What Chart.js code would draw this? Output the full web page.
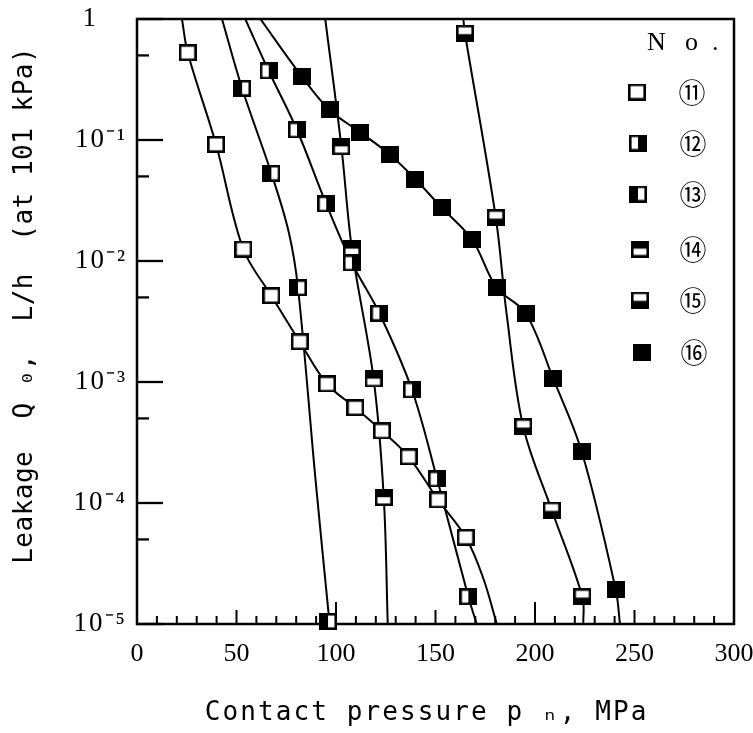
<!DOCTYPE html>
<html>
<head>
<meta charset="utf-8">
<script src="https://cdn.jsdelivr.net/npm/chart.js@4/dist/chart.umd.min.js"></script>
<style>
  html, body { margin: 0; padding: 0; background: #fff; }
  #wrap { width: 753px; height: 733px; }
</style>
</head>
<body>
<div id="wrap"><canvas id="c" width="753" height="733"></canvas></div>
<script>
// ---------------- data ----------------
const seriesLabels = ['\u246A', '\u246B', '\u246C', '\u246D', '\u246E', '\u246F']; // ⑪ … ⑯
const legendHeader = ['N', 'o', '.'];

const xTickValues = [0, 50, 100, 150, 200, 250, 300];
const xTickLabels = ['0', '50', '100', '150', '200', '250', '300'];
const yTickValues = [1, 1e-1, 1e-2, 1e-3, 1e-4, 1e-5];
const yTickLabels = ['1', '10\u207B\u00B9', '10\u207B\u00B2', '10\u207B\u00B3', '10\u207B\u2074', '10\u207B\u2075'];
const yMinorTickValues = [0.5, 0.05, 0.005, 0.0005, 0.00005];

const xTitle = 'Contact pressure p \u2099, MPa';
const yTitle = 'Leakage  Q \u2080,  L/h  (at 101 kPa)';

// measured points (markers)
const m11x = [25.5, 39.7, 53.4, 67.5, 81.8, 95.5, 109.7, 123.1, 136.5, 151.3, 165.2];
const m11y = [0.527, 0.0921, 0.01256, 0.00517, 0.00215, 9.63e-4, 6.13e-4, 3.94e-4, 2.41e-4, 1.06e-4, 5.21e-5];
const m12x = [66.2, 80.4, 95.1, 108.0, 121.8, 138.2, 150.8, 166.5];
const m12y = [0.372, 0.121, 0.0296, 0.00963, 0.0037, 8.59e-4, 1.58e-4, 1.68e-5];
const m13x = [52.8, 67.5, 80.9, 96.0];
const m13y = [0.2676, 0.0531, 0.00601, 1.05e-5];
const m14x = [102.7, 108.0, 118.9, 124.0];
const m14y = [0.088, 0.01257, 1.06e-3, 1.11e-4];
const m15x = [164.8, 180.3, 194.1, 208.4, 223.8];
const m15y = [0.762, 0.0228, 4.27e-4, 8.75e-5, 1.68e-5];
const m16x = [82.9, 96.8, 112.2, 127.3, 139.8, 153.1, 168.5, 180.8, 195.3, 209.2, 223.5, 240.6];
const m16y = [0.3336, 0.177, 0.1158, 0.0752, 0.0476, 0.0276, 0.01492, 0.00601, 0.0037, 1.06e-3, 2.65e-4, 1.91e-5];

// drawn fitting curves
const c11x = [22.6, 25.5, 39.7, 53.4, 67.5, 81.8, 95.5, 109.7, 123.1, 136.5, 151.3, 165.2, 174.0, 180.8];
const c11y = [1, 0.527, 0.0921, 0.01256, 0.00517, 0.00215, 9.63e-4, 6.13e-4, 3.94e-4, 2.41e-4, 1.06e-4, 5.21e-5, 2.39e-5, 1e-5];
const c12x = [54.4, 66.2, 80.4, 95.1, 108.0, 121.8, 138.2, 150.8, 166.5, 170.7];
const c12y = [1, 0.372, 0.121, 0.0296, 0.00963, 0.0037, 8.59e-4, 1.58e-4, 1.68e-5, 1e-5];
const c13x = [42.7, 52.8, 67.5, 76.2, 80.9, 89.8, 96.8];
const c13y = [1, 0.2676, 0.0531, 0.01746, 0.00601, 1.5e-4, 1e-5];
const c14x = [94.6, 102.7, 108.0, 118.9, 124.0, 126.0];
const c14y = [1, 0.088, 0.01257, 1.06e-3, 1.11e-4, 1e-5];
const c15x = [164.0, 164.8, 180.3, 185.8, 194.1, 208.4, 223.8, 224.3];
const c15y = [1, 0.762, 0.0228, 3.58e-3, 4.27e-4, 8.75e-5, 1.68e-5, 1e-5];
const c16x = [62.0, 82.9, 96.8, 112.2, 127.3, 139.8, 153.1, 168.5, 180.8, 195.3, 209.2, 223.5, 240.6, 242.7];
const c16y = [1, 0.3336, 0.177, 0.1158, 0.0752, 0.0476, 0.0276, 0.01492, 0.00601, 0.0037, 1.06e-3, 2.65e-4, 1.91e-5, 1e-5];

// ---------------- marker glyphs ----------------
function makeMarker(kind) {
  const w = 18, h = 17, lw = 2.6;
  const c = document.createElement('canvas');
  c.width = w; c.height = h;
  const g = c.getContext('2d');
  g.fillStyle = '#fff'; g.fillRect(0, 0, w, h);
  g.fillStyle = '#000';
  if (kind === 'full') g.fillRect(0, 0, w, h);
  if (kind === 'right') g.fillRect(w * 0.5, 0, w * 0.5, h);
  if (kind === 'left') g.fillRect(0, 0, w * 0.5, h);
  if (kind === 'top') g.fillRect(0, 0, w, h * 0.48);
  if (kind === 'bottom') g.fillRect(0, h * 0.55, w, h * 0.45);
  g.lineWidth = lw; g.strokeStyle = '#000';
  g.strokeRect(lw / 2, lw / 2, w - lw, h - lw);
  return c;
}
const markerKinds = ['open', 'right', 'left', 'top', 'bottom', 'full'];
const markerImgs = markerKinds.map(makeMarker);

const zip = (xs, ys) => xs.map((x, i) => ({ x, y: ys[i] }));
const markerSets = [[m11x, m11y], [m12x, m12y], [m13x, m13y], [m14x, m14y], [m15x, m15y], [m16x, m16y]];
const curveSets = [[c11x, c11y], [c12x, c12y], [c13x, c13y], [c14x, c14y], [c15x, c15y], [c16x, c16y]];

const datasets = [];
curveSets.forEach(([xs, ys], i) => {
  datasets.push({
    label: seriesLabels[i] + ' curve',
    data: zip(xs, ys),
    showLine: true,
    borderColor: '#000',
    borderWidth: 2,
    pointRadius: 0,
    tension: 0.35,
    order: 1
  });
});
markerSets.forEach(([xs, ys], i) => {
  datasets.push({
    label: seriesLabels[i],
    data: zip(xs, ys),
    showLine: false,
    pointStyle: markerImgs[i],
    pointRadius: 9,
    clip: false,
    order: 0
  });
});

// ---------------- helpers / plugins ----------------
function withSpacing(scale, method, spacing) {
  const key = '_sp_' + method;
  if (scale[key]) return;
  const orig = scale[method];
  scale[method] = function (...args) {
    const ctx = this.ctx;
    ctx.save();
    ctx.letterSpacing = spacing;
    orig.apply(this, args);
    ctx.restore();
  };
  scale[key] = true;
}

const spacingPlugin = {
  id: 'spacing',
  beforeDraw(chart) {
    withSpacing(chart.scales.x, 'drawTitle', '2.1px');
    withSpacing(chart.scales.y, 'drawTitle', '0.5px');
    withSpacing(chart.scales.y, 'drawLabels', '2px');
  }
};

const framePlugin = {
  id: 'frameTicks',
  beforeDatasetsDraw(chart) {
    const { ctx, chartArea: a, scales: { x, y } } = chart;
    ctx.save();
    ctx.strokeStyle = '#000';
    ctx.lineCap = 'butt';
    ctx.lineWidth = 2.5;
    ctx.strokeRect(a.left, a.top, a.right - a.left, a.bottom - a.top);
    // x inner ticks every 10 MPa
    ctx.lineWidth = 2;
    for (let v = 10; v < 300; v += 10) {
      const px = x.getPixelForValue(v);
      const len = v % 100 === 0 ? 22 : (v % 50 === 0 ? 14 : 8);
      ctx.beginPath(); ctx.moveTo(px, a.bottom); ctx.lineTo(px, a.bottom - len); ctx.stroke();
    }
    // y inner ticks
    ctx.lineWidth = 2.3;
    yTickValues.forEach(v => {
      const py = y.getPixelForValue(v);
      ctx.beginPath(); ctx.moveTo(a.left, py); ctx.lineTo(a.left + 26, py); ctx.stroke();
    });
    yMinorTickValues.forEach(v => {
      const py = y.getPixelForValue(v);
      ctx.beginPath(); ctx.moveTo(a.left, py); ctx.lineTo(a.left + 12, py); ctx.stroke();
    });
    ctx.restore();
  }
};

const legendLayout = {
  header: [{ x: 647, y: 50 }, { x: 685, y: 50 }, { x: 712, y: 50 }],
  rows: [
    { mx: 637, tx: 692, y: 92 },
    { mx: 638, tx: 693, y: 143 },
    { mx: 638, tx: 693, y: 194 },
    { mx: 640, tx: 693, y: 249 },
    { mx: 640, tx: 693, y: 300 },
    { mx: 642, tx: 694, y: 352 }
  ]
};

const legendPlugin = {
  id: 'paperLegend',
  afterDatasetsDraw(chart) {
    const ctx = chart.ctx;
    ctx.save();
    ctx.fillStyle = '#000';
    ctx.font = '26px "Liberation Serif", serif';
    ctx.textAlign = 'left';
    ctx.textBaseline = 'alphabetic';
    legendHeader.forEach((t, i) => ctx.fillText(t, legendLayout.header[i].x, legendLayout.header[i].y));
    ctx.font = '27px "Noto Sans CJK JP", "Noto Sans CJK SC", sans-serif';
    ctx.textAlign = 'center';
    ctx.textBaseline = 'middle';
    legendLayout.rows.forEach((r, i) => {
      const img = markerImgs[i];
      ctx.drawImage(img, r.mx - img.width / 2, r.y - img.height / 2);
      ctx.fillText(seriesLabels[i], r.tx, r.y + 1);
    });
    ctx.restore();
  }
};

// ---------------- chart ----------------
new Chart(document.getElementById('c'), {
  type: 'scatter',
  data: { datasets },
  options: {
    responsive: false,
    devicePixelRatio: 1,
    animation: false,
    layout: { padding: { top: 19, right: 19, left: 0, bottom: 0 } },
    plugins: { legend: { display: false }, tooltip: { enabled: false } },
    scales: {
      x: {
        type: 'linear',
        min: 0, max: 300,
        afterFit: s => { s.height = 109; s.paddingLeft = 0; s.paddingRight = 0; },
        afterBuildTicks: s => { s.ticks = xTickValues.map(v => ({ value: v })); },
        grid: { display: false, drawTicks: false },
        border: { display: false },
        ticks: {
          autoSkip: false, maxRotation: 0, padding: 15, color: '#000',
          font: { family: '"Liberation Serif", serif', size: 26, lineHeight: 1.2 },
          callback: (v, i) => xTickLabels[i]
        },
        title: {
          display: true, text: xTitle + ' ', color: '#000',
          font: { family: '"DejaVu Sans Mono", monospace', size: 26, lineHeight: 1 },
          padding: { top: 0, bottom: 7 }
        }
      },
      y: {
        type: 'logarithmic',
        min: 1e-5, max: 1,
        afterFit: s => { s.width = 137; s.paddingTop = 0; s.paddingBottom = 0; },
        afterBuildTicks: s => { s.ticks = yTickValues.map(v => ({ value: v })); },
        grid: { display: false, drawTicks: false },
        border: { display: false },
        ticks: {
          autoSkip: false, padding: 10, color: '#000',
          font: { family: '"Liberation Serif", serif', size: 27, lineHeight: 1.2 },
          callback: (v, i) => (yTickValues[i] === 1 ? yTickLabels[i] + '\u2003' : yTickLabels[i])
        },
        title: {
          display: true, text: '  ' + yTitle, color: '#000',
          font: { family: '"DejaVu Sans Mono", monospace', size: 26, lineHeight: 1 },
          padding: { top: 12, bottom: 0 }
        }
      }
    }
  },
  plugins: [spacingPlugin, framePlugin, legendPlugin]
});
</script>
</body>
</html>
